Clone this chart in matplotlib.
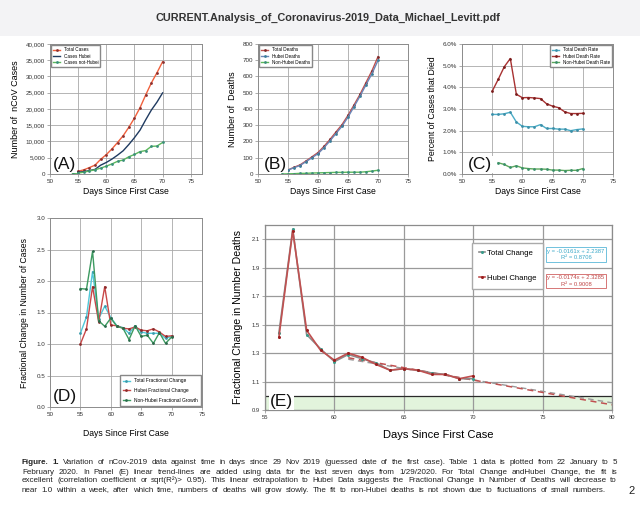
import matplotlib
matplotlib.use("Agg")
import matplotlib.pyplot as plt
import numpy as np
from matplotlib.ticker import FuncFormatter
from matplotlib.patches import Rectangle

plt.rcParams['font.family'] = ['Liberation Sans', 'DejaVu Sans']

# ---------------- data ----------------
days_a = [54, 55, 56, 57, 58, 59, 60, 61, 62, 63, 64, 65, 66, 67, 68, 69, 70]
total_cases = [571, 830, 1287, 1975, 2744, 4515, 5974, 7711, 9692, 11791, 14380, 17205, 20438, 24324, 28018, 31161, 34546]
hubei_cases = [444, 549, 729, 1052, 1423, 2714, 3554, 4586, 5806, 7153, 9074, 11177, 13522, 16678, 19665, 22112, 24953]
nonhubei_cases = [130, 280, 560, 920, 1320, 1800, 2420, 3100, 3900, 4300, 5300, 6000, 6900, 7200, 8500, 8600, 9700]

days_b = [55, 56, 57, 58, 59, 60, 61, 62, 63, 64, 65, 66, 67, 68, 69, 70]
total_deaths = [25, 41, 56, 80, 106, 132, 170, 213, 259, 304, 361, 425, 490, 563, 636, 722]
hubei_deaths = [24, 39, 52, 76, 100, 125, 162, 204, 249, 294, 350, 414, 479, 549, 618, 699]
days_b2 = [54, 55, 56, 57, 58, 59, 60, 61, 62, 63, 64, 65, 66, 67, 68, 69, 70]
nonhubei_deaths = [0, 1, 2, 4, 4, 6, 7, 8, 9, 10, 10, 11, 11, 11, 14, 18, 23]

days_c = [55, 56, 57, 58, 59, 60, 61, 62, 63, 64, 65, 66, 67, 68, 69, 70]
total_rate = [2.75, 2.75, 2.78, 2.85, 2.40, 2.20, 2.18, 2.18, 2.28, 2.10, 2.10, 2.07, 2.07, 2.00, 2.05, 2.08]
hubei_rate = [3.82, 4.37, 4.95, 5.33, 3.68, 3.52, 3.53, 3.51, 3.48, 3.24, 3.13, 3.06, 2.87, 2.79, 2.79, 2.80]
days_c2 = [56, 57, 58, 59, 60, 61, 62, 63, 64, 65, 66, 67, 68, 69, 70]
nonhubei_rate = [0.52, 0.44, 0.30, 0.38, 0.28, 0.25, 0.23, 0.23, 0.22, 0.18, 0.18, 0.16, 0.17, 0.17, 0.25]

days_d = [55, 56, 57, 58, 59, 60, 61, 62, 63, 64, 65, 66, 67, 68, 69, 70]
total_frac = [1.17, 1.43, 2.15, 1.40, 1.60, 1.42, 1.29, 1.26, 1.17, 1.29, 1.19, 1.17, 1.17, 1.17, 1.09, 1.12]
hubei_frac = [1.00, 1.24, 1.91, 1.35, 1.91, 1.30, 1.29, 1.25, 1.24, 1.27, 1.22, 1.21, 1.24, 1.19, 1.12, 1.13]
nonhubei_frac = [1.88, 1.87, 2.47, 1.37, 1.28, 1.41, 1.28, 1.25, 1.07, 1.29, 1.12, 1.14, 1.01, 1.18, 1.01, 1.11]

days_e = [56, 57, 58, 59, 60, 61, 62, 63, 64, 65, 66, 67, 68, 69, 70]
total_change = [1.44, 2.17, 1.43, 1.33, 1.24, 1.29, 1.26, 1.23, 1.18, 1.19, 1.18, 1.16, 1.15, 1.12, 1.12]
hubei_change = [1.41, 2.16, 1.46, 1.32, 1.25, 1.30, 1.27, 1.22, 1.18, 1.19, 1.18, 1.15, 1.15, 1.12, 1.14]
fit_total = [-0.0161, 2.2387]
fit_hubei = [-0.0174, 2.3285]
fit_range = [61, 80]

W, H = 640, 516
fig = plt.figure(figsize=(W / 100, H / 100), dpi=100)
fig.patch.set_facecolor('white')
fig.patches.append(Rectangle((0, 1 - 36 / H), 1, 36 / H, transform=fig.transFigure,
                             facecolor='#f3f3f5', edgecolor='none', zorder=-5))


def box(l, t, r, b):
    return [l / W, 1 - b / H, (r - l) / W, (b - t) / H]


def fx(px):
    return px / W


def fy(py):
    return 1 - py / H


def style(ax, xlim, ylim, xt, yt, fmt, ts=4.5):
    ax.set_xlim(*xlim)
    ax.set_ylim(*ylim)
    ax.set_xticks(xt)
    ax.set_yticks(yt)
    ax.yaxis.set_major_formatter(FuncFormatter(fmt))
    ax.grid(True, color='#a8a8a8', lw=0.6)
    ax.set_axisbelow(True)
    for s in ax.spines.values():
        s.set_color('#8c8c8c')
        s.set_linewidth(0.7)
    ax.tick_params(labelsize=ts, length=2, width=0.5, color='#8c8c8c',
                   labelcolor='#333333', pad=1.5)


def panel_label(ax, txt, x=0.02, y=0.015, fs=12.5):
    ax.text(x, y, txt, transform=ax.transAxes, fontsize=fs, ha='left', va='bottom',
            color='#111111', zorder=10,
            bbox=dict(facecolor='white', edgecolor='none', pad=0.6))


mk = dict(marker='o', markersize=2.0, markeredgewidth=0)
leg_kw = dict(frameon=True, fancybox=False, edgecolor='#888888', handlelength=1.5,
              borderpad=0.4, labelspacing=0.3, borderaxespad=0.3, framealpha=1)

# ---------------- Panel A ----------------
axA = fig.add_axes(box(50, 44, 202, 174))
axA.plot(days_a, total_cases, color='#f0603c', lw=1.0, markerfacecolor='#8a3030', label='Total Cases', **mk)
axA.plot(days_a, hubei_cases, color='#1f3a60', lw=1.0, label='Cases Hubei')
axA.plot(days_a, nonhubei_cases, color='#5cb85c', lw=1.0, markerfacecolor='#3a8f7a', label='Cases not-Hubei', **mk)
style(axA, (50, 77), (0, 40000), [50, 55, 60, 65, 70, 75], np.arange(0, 40001, 5000),
      lambda v, p: f"{int(v):,}")
axA.set_ylabel('Number of  nCoV Cases', fontsize=6.5, labelpad=4)
axA.set_xlabel('Days Since First Case', fontsize=6.2, labelpad=2)
axA.legend(loc='upper left', fontsize=3.3, **leg_kw)
panel_label(axA, '(A)')

# ---------------- Panel B ----------------
axB = fig.add_axes(box(258, 44, 408, 174))
axB.plot(days_b, total_deaths, color='#c0504d', lw=1.0, markerfacecolor='#7a2a2a', label='Total Deaths', **mk)
axB.plot(days_b, hubei_deaths, color='#6a86b8', lw=1.0, markerfacecolor='#3c7f9a', label='Hubei Deaths', **mk)
axB.plot(days_b2, nonhubei_deaths, color='#5cb85c', lw=1.0, markerfacecolor='#3a8f7a', label='Non-Hubei Deaths', **mk)
style(axB, (50, 75), (0, 800), [50, 55, 60, 65, 70, 75], np.arange(0, 801, 100),
      lambda v, p: f"{int(v)}")
axB.set_ylabel('Number of  Deaths', fontsize=6.5, labelpad=4)
axB.set_xlabel('Days Since First Case', fontsize=6.2, labelpad=2)
axB.legend(loc='upper left', fontsize=3.3, **leg_kw)
panel_label(axB, '(B)', x=0.04)

# ---------------- Panel C ----------------
axC = fig.add_axes(box(462, 44, 613, 174))
axC.plot(days_c, total_rate, color='#4bacc6', lw=1.0, markerfacecolor='#3c8fa8', label='Total Death Rate', **mk)
axC.plot(days_c, hubei_rate, color='#a83232', lw=1.0, markerfacecolor='#7a1c1c', label='Hubei Death Rate', **mk)
axC.plot(days_c2, nonhubei_rate, color='#5ca85c', lw=1.0, markerfacecolor='#3a8f6a', label='Non-Hubei Death Rate', **mk)
style(axC, (50, 75), (0, 6), [50, 55, 60, 65, 70, 75], np.arange(0, 6.01, 1),
      lambda v, p: f"{v:.1f}%")
axC.set_ylabel('Percent of Cases that Died', fontsize=6.3, labelpad=4)
axC.set_xlabel('Days Since First Case', fontsize=6.2, labelpad=2)
axC.legend(loc='upper right', fontsize=3.3, **leg_kw)
panel_label(axC, '(C)', x=0.04)

# ---------------- Panel D ----------------
axD = fig.add_axes(box(50, 218, 202, 407))
axD.plot(days_d, total_frac, color='#4fc8d8', lw=1.0, markerfacecolor='#3a9aaa', label='Total Fractional Change', **mk)
axD.plot(days_d, hubei_frac, color='#c84848', lw=1.0, markerfacecolor='#8a2a2a', label='Hubei Fractional Change', **mk)
axD.plot(days_d, nonhubei_frac, color='#3c9a60', lw=1.0, markerfacecolor='#2a6a4a', label='Non-Hubei Fractional Growth', **mk)
style(axD, (50, 75), (0, 3), [50, 55, 60, 65, 70, 75], np.arange(0, 3.01, 0.5),
      lambda v, p: f"{v:.1f}")
axD.set_ylabel('Fractional Change in Number of Cases', fontsize=6.2, labelpad=5)
axD.set_xlabel('Days Since First Case', fontsize=6.2, labelpad=9)
axD.legend(loc='lower right', fontsize=3.5, frameon=True, fancybox=False, edgecolor='#888888',
           handlelength=1.5, borderpad=0.6, labelspacing=0.95, borderaxespad=0.3, framealpha=1)
panel_label(axD, '(D)')

# ---------------- Panel E ----------------
axE = fig.add_axes(box(265, 225, 612, 410))
style(axE, (55, 80), (0.9, 2.2), [55, 60, 65, 70, 75, 80], np.arange(0.9, 2.11, 0.2),
      lambda v, p: f"{v:.1f}", ts=4.2)
for s in axE.spines.values():
    s.set_linewidth(0.9)
axE.grid(True, color='#9a9a9a', lw=0.9)
axE.axhspan(0.9, 1.0, color='#e2f4dc', zorder=0.5, lw=0)
axE.axhline(1.0, color='#2a2a2a', lw=0.9, zorder=1)
xs = np.array(fit_range, dtype=float)
axE.plot(xs, np.polyval(fit_total, xs), color='#9a9a9a', lw=1.0, ls=(0, (4, 3)), zorder=2)
axE.plot(xs, np.polyval(fit_hubei, xs), color='#c05050', lw=1.1, ls=(0, (4, 3)), zorder=2)
axE.plot(days_e, total_change, color='#8c8c8c', lw=1.2, marker='o', markersize=2.2,
         markeredgewidth=0, markerfacecolor='#3a9a8a', label='Total Change', zorder=3)
axE.plot(days_e, hubei_change, color='#c05050', lw=1.2, marker='o', markersize=2.2,
         markeredgewidth=0, markerfacecolor='#9a2020', label='Hubei Change', zorder=4)
axE.set_ylabel('Fractional Change in Number Deaths', fontsize=7.6, labelpad=6)
axE.set_xlabel('Days Since First Case', fontsize=8, labelpad=7)
axE.legend(loc='upper left', bbox_to_anchor=(0.597, 0.905), fontsize=5.6, frameon=True,
           fancybox=False, edgecolor='#aaaaaa', handlelength=0.7, handletextpad=0.3,
           borderpad=0.9, labelspacing=2.2, framealpha=1, borderaxespad=0)
axE.text(0.896, 0.84, 'y = -0.0161x + 2.2387\nR² = 0.8706', transform=axE.transAxes,
         fontsize=4.2, color='#3aa8c8', ha='center', va='center', linespacing=1.3, zorder=6,
         bbox=dict(facecolor='white', edgecolor='#5ab8d8', lw=0.6, pad=1.2))
axE.text(0.896, 0.697, 'y = -0.0174x + 2.3285\nR² = 0.9008', transform=axE.transAxes,
         fontsize=4.2, color='#c04848', ha='center', va='center', linespacing=1.3, zorder=6,
         bbox=dict(facecolor='white', edgecolor='#d06060', lw=0.6, pad=1.2))
panel_label(axE, '(E)', x=0.015, y=0.005)

# ---------------- Title / caption ----------------
fig.text(fx(328), fy(18), 'CURRENT.Analysis_of_Coronavirus-2019_Data_Michael_Levitt.pdf',
         fontsize=7.8, fontweight='bold', ha='center', va='center', color='#333333')

cap_fs = 5.8
cap_l = 22
cap_rights = [617, 617, 617, 606]
lines = [
    'Figure. 1. Variation of nCov-2019 data against time in days since 29 Nov 2019 (guessed date of the first case). Table 1 data is plotted from 22 January to 5',
    'February 2020. In Panel (E) linear trend-lines are added using data for the last seven days from 1/29/2020. For Total Change andHubei Change, the fit is',
    'excellent (correlation coefficient or sqrt(R²)> 0.95). This linear extrapolation to Hubei Data suggests the Fractional Change in Number of Deaths will decrease to',
    'near 1.0 within a week, after which time, numbers of deaths will grow slowly. The fit to non-Hubei deaths is not shown due to fluctuations of small numbers.',
]
baselines = [464.5, 473.5, 482.5, 491.5]
renderer = fig.canvas.get_renderer()
for li, (ln, yy) in enumerate(zip(lines, baselines)):
    words = ln.split()
    objs = []
    for wi, wd in enumerate(words):
        bold = (li == 0 and wi < 2)
        t = fig.text(0, fy(yy), wd, fontsize=cap_fs, ha='left', va='baseline', color='#222222',
                     fontweight='bold' if bold else 'normal')
        objs.append(t)
    widths = [o.get_window_extent(renderer=renderer).width for o in objs]
    gap = max(1.2, (cap_rights[li] - cap_l - sum(widths)) / (len(objs) - 1))
    x = cap_l
    for o, wdt in zip(objs, widths):
        o.set_x(fx(x))
        x += wdt + gap
fig.text(fx(632), fy(491), '2', fontsize=8, ha='center', va='center', color='#222222')

fig.savefig('out.png', dpi=100, facecolor=fig.get_facecolor())
